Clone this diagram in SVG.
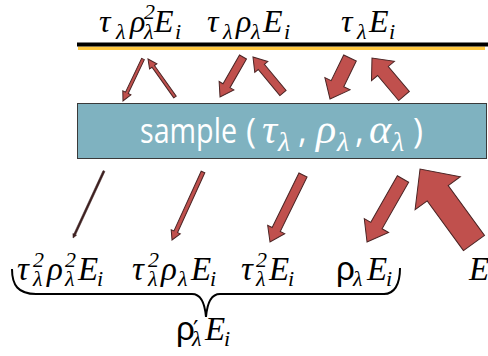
<svg xmlns="http://www.w3.org/2000/svg" width="488" height="356" viewBox="0 0 488 356">
<style>
.ar{fill:#c0504d;stroke:#4a2424;stroke-width:1;stroke-linejoin:miter}
.ln{fill:#3d2020;stroke:#3d2020;stroke-width:0.5}
.m{font-family:"Liberation Serif","DejaVu Serif",serif;font-style:italic;fill:#000}
.t{font-size:32px}
.b{font-size:33px}
.s{font-size:22px}
.up{font-style:normal;font-family:"Liberation Sans","Noto Sans",sans-serif}
.pr{font-style:normal;font-family:"DejaVu Sans",sans-serif;font-size:24px}
.sa{font-family:"Open Sans","Noto Sans",sans-serif;font-size:34px;fill:#fff}
.sm{font-family:"Liberation Serif","DejaVu Serif",serif;font-style:italic;fill:#fff;font-size:42px}
.ss{font-family:"Liberation Serif","DejaVu Serif",serif;font-style:italic;fill:#fff;font-size:28px}
</style>
<rect width="488" height="356" fill="#fff"/>
<g id="surface">
<line x1="78" y1="48.3" x2="485" y2="48.3" stroke="#ffc840" stroke-width="3.5"/>
<line x1="77" y1="44.5" x2="488" y2="44.5" stroke="#000" stroke-width="4"/>
</g>
<g id="sample">
<rect x="77.5" y="103.5" width="409" height="55" fill="#7fb2c0" stroke="#3a3a3a" stroke-width="1"/>
<text class="sa" x="140" y="143" textLength="97" lengthAdjust="spacingAndGlyphs">sample</text>
<text class="sa" y="143"><tspan x="246">(</tspan><tspan x="298">,</tspan><tspan x="355">,</tspan><tspan x="413">)</tspan></text>
<text class="sm" y="143"><tspan x="262">τ</tspan><tspan x="316">ρ</tspan><tspan x="369">α</tspan></text>
<text class="ss" y="151"><tspan x="278">λ</tspan><tspan x="337">λ</tspan><tspan x="392">λ</tspan></text>
</g>
<g id="top-labels">
<text class="m t" y="32"><tspan x="99">τ</tspan><tspan class="s" x="116" y="39">λ</tspan><tspan x="130" y="32">ρ</tspan><tspan class="s" x="144" y="19">2</tspan><tspan class="s" x="144" y="39">λ</tspan><tspan x="154" y="32">E</tspan><tspan class="s" x="175" y="39">i</tspan></text>
<text class="m t" y="32"><tspan x="207">τ</tspan><tspan class="s" x="223" y="39">λ</tspan><tspan x="236" y="32">ρ</tspan><tspan class="s" x="251" y="39">λ</tspan><tspan x="263" y="32">E</tspan><tspan class="s" x="284" y="39">i</tspan></text>
<text class="m t" y="32"><tspan x="341">τ</tspan><tspan class="s" x="357" y="39">λ</tspan><tspan x="369" y="32">E</tspan><tspan class="s" x="389" y="39">i</tspan></text>
</g>
<g id="bottom-labels">
<text class="m b" y="280"><tspan x="17">τ</tspan><tspan class="s" x="33" y="267">2</tspan><tspan class="s" x="33" y="286">λ</tspan><tspan x="47" y="280">ρ</tspan><tspan class="s" x="65" y="267">2</tspan><tspan class="s" x="65" y="286">λ</tspan><tspan x="78" y="280">E</tspan><tspan class="s" x="97" y="286">i</tspan></text>
<text class="m b" y="280"><tspan x="132">τ</tspan><tspan class="s" x="148" y="267">2</tspan><tspan class="s" x="148" y="286">λ</tspan><tspan x="161" y="280">ρ</tspan><tspan class="s" x="178" y="286">λ</tspan><tspan x="191" y="280">E</tspan><tspan class="s" x="210" y="286">i</tspan></text>
<text class="m b" y="280"><tspan x="241">τ</tspan><tspan class="s" x="256" y="267">2</tspan><tspan class="s" x="256" y="286">λ</tspan><tspan x="269" y="280">E</tspan><tspan class="s" x="288" y="286">i</tspan></text>
<text class="m b" y="280"><tspan class="up" x="336">ρ</tspan><tspan class="s" x="353" y="286">λ</tspan><tspan x="367" y="280">E</tspan><tspan class="s" x="386" y="286">i</tspan></text>
<text class="m b" y="280"><tspan x="469">E</tspan><tspan class="s" x="488" y="286">i</tspan></text>
</g>
<g id="brace">
<path d="M12,269 C12,285 18,294 36,294 L192,294 C201,294 205,305 206,317 C207,305 211,294 220,294 L384,294 C394,294 400,285 400,268" fill="none" stroke="#000" stroke-width="2"/>
<text class="m b" y="340"><tspan class="up" x="176">ρ</tspan><tspan class="pr" x="193" y="338">′</tspan><tspan class="s" x="192" y="346">λ</tspan><tspan x="205" y="340">E</tspan><tspan class="s" x="224" y="346">i</tspan></text>
</g>
<g id="connectors">
<polygon class="ar" transform="translate(143,59) rotate(115.5)" points="0,-1.5 37.5,-1.5 37.5,-4.5 46.5,0 37.5,4.5 37.5,1.5 0,1.5"/>
<polygon class="ar" transform="translate(175,97) rotate(-125.4)" points="0,-1.5 37.6,-1.5 37.6,-4.5 46.6,0 37.6,4.5 37.6,1.5 0,1.5"/>
<polygon class="ar" transform="translate(243,57) rotate(119.9)" points="0,-4 33.1,-4 33.1,-8.5 46.1,0 33.1,8.5 33.1,4 0,4"/>
<polygon class="ar" transform="translate(283,93) rotate(-129.8)" points="0,-4 33.9,-4 33.9,-8.5 46.9,0 33.9,8.5 33.9,4 0,4"/>
<polygon class="ar" transform="translate(350,58) rotate(116)" points="0,-7 28.6,-7 28.6,-14 45.6,0 28.6,14 28.6,7 0,7"/>
<polygon class="ar" transform="translate(404,96) rotate(-130.1)" points="0,-7 32.7,-7 32.7,-15 49.7,0 32.7,15 32.7,7 0,7"/>
<polygon class="ln" transform="translate(104,171) rotate(114.8)" points="0,-1 69.8,-1 69.8,-2 73.8,0 69.8,2 69.8,1 0,1"/>
<polygon class="ar" transform="translate(203,172) rotate(114.5)" points="0,-2 65.7,-2 65.7,-5 74.7,0 65.7,5 65.7,2 0,2"/>
<polygon class="ar" transform="translate(303,175) rotate(116.2)" points="0,-4.5 60.7,-4.5 60.7,-9.5 74.7,0 60.7,9.5 60.7,4.5 0,4.5"/>
<polygon class="ar" transform="translate(403,179) rotate(119.7)" points="0,-6.5 53.6,-6.5 53.6,-14 72.6,0 53.6,14 53.6,6.5 0,6.5"/>
<polygon class="ar" transform="translate(474,243) rotate(-126.1)" points="0,-13 61.6,-13 61.6,-28 91.6,0 61.6,28 61.6,13 0,13"/>
</g>
</svg>
